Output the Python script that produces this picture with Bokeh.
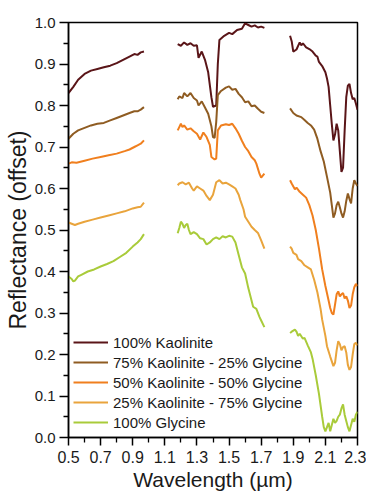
from bokeh.plotting import figure
from bokeh.models import FixedTicker, NumeralTickFormatter, Legend, LegendItem
from bokeh.embed import file_html
from bokeh.resources import INLINE

NaN = float("nan")

# ---- data (wavelength in µm, reflectance offset) ----
kao_wl = [0.50, 0.53, 0.56, 0.60, 0.64, 0.68, 0.72, 0.76, 0.80, 0.84, 0.88, 0.91, 0.93, 0.95, 0.97, NaN,
          1.18, 1.20, 1.22, 1.24, 1.26, 1.28, 1.30, 1.31, 1.33, 1.35, 1.37, 1.39, 1.40, 1.42, 1.43, 1.44,
          1.47, 1.50, 1.52, 1.55, 1.58, 1.60, 1.62, 1.64, 1.66, 1.68, 1.70, 1.72, NaN,
          1.88, 1.89, 1.90, 1.92, 1.94, 1.95, 1.96, 1.98, 2.00, 2.02, 2.04, 2.05, 2.06, 2.08, 2.10, 2.11,
          2.12, 2.13, 2.14, 2.15, 2.16, 2.17, 2.18, 2.19, 2.20, 2.21, 2.22, 2.23, 2.24, 2.25, 2.26, 2.27,
          2.28, 2.29, 2.30]
kao_r = [0.830, 0.845, 0.862, 0.876, 0.884, 0.888, 0.892, 0.896, 0.902, 0.910, 0.918, 0.924, 0.922, 0.928, 0.930, NaN,
         0.948, 0.944, 0.952, 0.946, 0.950, 0.944, 0.945, 0.915, 0.930, 0.910, 0.880, 0.820, 0.797, 0.800, 0.900, 0.958,
         0.968, 0.975, 0.972, 0.982, 0.985, 0.998, 0.994, 0.990, 0.993, 0.988, 0.990, 0.987, NaN,
         0.968, 0.955, 0.930, 0.935, 0.952, 0.945, 0.950, 0.940, 0.936, 0.930, 0.920, 0.918, 0.905, 0.895, 0.880, 0.865,
         0.845, 0.800, 0.755, 0.716, 0.730, 0.756, 0.740, 0.690, 0.640, 0.650, 0.740, 0.820, 0.848, 0.852, 0.830, 0.815,
         0.818, 0.805, 0.790]

k75_wl = [0.50, 0.53, 0.56, 0.60, 0.64, 0.68, 0.72, 0.76, 0.80, 0.84, 0.88, 0.91, 0.93, 0.95, 0.97, NaN,
          1.18, 1.19, 1.21, 1.22, 1.24, 1.26, 1.28, 1.30, 1.31, 1.33, 1.35, 1.37, 1.39, 1.40, 1.41, 1.42,
          1.43, 1.45, 1.48, 1.50, 1.52, 1.54, 1.56, 1.58, 1.60, 1.62, 1.64, 1.66, 1.68, 1.70, 1.72, NaN,
          1.88, 1.90, 1.92, 1.95, 1.97, 1.99, 2.01, 2.03, 2.05, 2.07, 2.09, 2.11, 2.13, 2.14, 2.15, 2.16,
          2.17, 2.18, 2.19, 2.20, 2.21, 2.22, 2.23, 2.24, 2.25, 2.26, 2.27, 2.28, 2.29, 2.30]
k75_r = [0.720, 0.732, 0.740, 0.746, 0.752, 0.756, 0.758, 0.764, 0.770, 0.776, 0.782, 0.786, 0.786, 0.790, 0.796, NaN,
         0.815, 0.822, 0.818, 0.830, 0.822, 0.830, 0.818, 0.812, 0.800, 0.810, 0.795, 0.780, 0.750, 0.724, 0.722, 0.760,
         0.825, 0.835, 0.843, 0.846, 0.838, 0.840, 0.828, 0.820, 0.808, 0.810, 0.798, 0.800, 0.792, 0.785, 0.782, NaN,
         0.793, 0.782, 0.776, 0.772, 0.765, 0.758, 0.752, 0.742, 0.720, 0.690, 0.665, 0.628, 0.590, 0.560, 0.530, 0.540,
         0.560, 0.568, 0.555, 0.540, 0.530, 0.545, 0.570, 0.588, 0.575, 0.564, 0.600, 0.620, 0.612, 0.606]

k50_wl = [0.50, 0.52, 0.55, 0.60, 0.65, 0.70, 0.75, 0.80, 0.85, 0.88, 0.91, 0.93, 0.95, 0.97, NaN,
          1.18, 1.19, 1.20, 1.21, 1.22, 1.24, 1.26, 1.28, 1.30, 1.32, 1.34, 1.36, 1.38, 1.39, 1.41, 1.42,
          1.43, 1.45, 1.48, 1.50, 1.52, 1.54, 1.56, 1.58, 1.60, 1.62, 1.64, 1.66, 1.67, 1.69, 1.70, 1.72, NaN,
          1.88, 1.89, 1.91, 1.92, 1.94, 1.96, 1.98, 2.00, 2.02, 2.04, 2.06, 2.08, 2.10, 2.12, 2.13, 2.14,
          2.15, 2.16, 2.17, 2.18, 2.19, 2.20, 2.21, 2.22, 2.23, 2.24, 2.25, 2.26, 2.27, 2.28, 2.29, 2.30]
k50_r = [0.660, 0.663, 0.662, 0.667, 0.672, 0.676, 0.680, 0.684, 0.690, 0.694, 0.700, 0.704, 0.708, 0.716, NaN,
         0.740, 0.748, 0.756, 0.748, 0.752, 0.742, 0.745, 0.738, 0.732, 0.718, 0.735, 0.724, 0.705, 0.676, 0.670, 0.672,
         0.740, 0.752, 0.755, 0.753, 0.756, 0.745, 0.732, 0.715, 0.700, 0.690, 0.676, 0.668, 0.660, 0.635, 0.626, 0.636, NaN,
         0.620, 0.612, 0.598, 0.602, 0.592, 0.585, 0.578, 0.560, 0.535, 0.500, 0.455, 0.405, 0.365, 0.330, 0.312, 0.300,
         0.296, 0.320, 0.345, 0.352, 0.340, 0.345, 0.348, 0.335, 0.340, 0.330, 0.312, 0.318, 0.345, 0.362, 0.370, 0.365]

k25_wl = [0.50, 0.52, 0.54, 0.56, 0.60, 0.65, 0.70, 0.75, 0.80, 0.85, 0.90, 0.93, 0.95, 0.97, NaN,
          1.18, 1.19, 1.21, 1.23, 1.25, 1.27, 1.28, 1.30, 1.32, 1.34, 1.36, 1.38, 1.40, 1.42, 1.44, 1.46,
          1.48, 1.50, 1.52, 1.54, 1.56, 1.57, 1.59, 1.60, 1.62, 1.64, 1.66, 1.68, 1.70, 1.72, NaN,
          1.88, 1.89, 1.90, 1.92, 1.93, 1.95, 1.97, 1.99, 2.01, 2.03, 2.05, 2.07, 2.08, 2.10, 2.11, 2.13,
          2.15, 2.16, 2.17, 2.18, 2.19, 2.20, 2.21, 2.22, 2.23, 2.24, 2.25, 2.26, 2.27, 2.28, 2.29, 2.30]
k25_r = [0.518, 0.515, 0.512, 0.515, 0.520, 0.525, 0.530, 0.535, 0.540, 0.545, 0.552, 0.555, 0.556, 0.566, NaN,
         0.608, 0.612, 0.615, 0.610, 0.614, 0.600, 0.595, 0.605, 0.600, 0.595, 0.582, 0.572, 0.585, 0.615, 0.620, 0.612,
         0.614, 0.610, 0.605, 0.600, 0.585, 0.572, 0.550, 0.532, 0.520, 0.508, 0.500, 0.493, 0.475, 0.455, NaN,
         0.460, 0.455, 0.445, 0.440, 0.430, 0.425, 0.415, 0.410, 0.405, 0.380, 0.350, 0.310, 0.284, 0.245, 0.220, 0.195,
         0.172, 0.180, 0.210, 0.232, 0.225, 0.210, 0.218, 0.220, 0.205, 0.175, 0.163, 0.170, 0.200, 0.225, 0.228, 0.222]

gly_wl = [0.50, 0.51, 0.52, 0.53, 0.54, 0.56, 0.58, 0.62, 0.66, 0.70, 0.74, 0.78, 0.82, 0.86, 0.90, 0.93, 0.95, 0.97, NaN,
          1.18, 1.19, 1.20, 1.21, 1.22, 1.23, 1.24, 1.25, 1.26, 1.28, 1.30, 1.32, 1.34, 1.36, 1.38, 1.40,
          1.42, 1.44, 1.46, 1.48, 1.50, 1.52, 1.54, 1.56, 1.58, 1.60, 1.62, 1.64, 1.65, 1.67, 1.69, 1.70, 1.72, NaN,
          1.88, 1.89, 1.91, 1.92, 1.93, 1.94, 1.96, 1.97, 1.99, 2.01, 2.02, 2.04, 2.06, 2.08, 2.09, 2.10,
          2.11, 2.12, 2.13, 2.14, 2.15, 2.16, 2.17, 2.18, 2.19, 2.20, 2.21, 2.22, 2.23, 2.24, 2.25, 2.26,
          2.27, 2.28, 2.29, 2.30]
gly_r = [0.388, 0.385, 0.382, 0.376, 0.378, 0.388, 0.392, 0.400, 0.405, 0.412, 0.418, 0.425, 0.435, 0.445, 0.460, 0.470, 0.478, 0.490, NaN,
         0.492, 0.505, 0.520, 0.515, 0.505, 0.512, 0.515, 0.500, 0.490, 0.495, 0.490, 0.480, 0.478, 0.465, 0.470, 0.478,
         0.482, 0.478, 0.485, 0.482, 0.486, 0.484, 0.470, 0.440, 0.410, 0.395, 0.360, 0.330, 0.315, 0.310, 0.290, 0.282, 0.266, NaN,
         0.252, 0.255, 0.260, 0.255, 0.245, 0.250, 0.238, 0.240, 0.222, 0.205, 0.190, 0.150, 0.105, 0.050, 0.025, 0.015,
         0.025, 0.035, 0.015, 0.030, 0.045, 0.035, 0.040, 0.050, 0.055, 0.070, 0.080, 0.055, 0.040, 0.025, 0.015, 0.030,
         0.045, 0.038, 0.055, 0.062]

labels = ["100% Kaolinite", "75% Kaolinite - 25% Glycine", "50% Kaolinite - 50% Glycine",
          "25% Kaolinite - 75% Glycine", "100% Glycine"]
colors = ["#5a1518", "#8f5c22", "#f07f1e", "#e9a43c", "#a9cb3a"]
x_ticks = [0.5, 0.7, 0.9, 1.1, 1.3, 1.5, 1.7, 1.9, 2.1, 2.3]
y_ticks = [0.0, 0.1, 0.2, 0.3, 0.4, 0.5, 0.6, 0.7, 0.8, 0.9, 1.0]

FONT = "Liberation Sans"

p = figure(width=366, height=496, x_range=(0.5, 2.3), y_range=(0.0, 1.0),
           output_backend="svg", toolbar_location=None,
           min_border_left=68, min_border_right=9, min_border_top=22, min_border_bottom=59)
p.xgrid.visible = False
p.ygrid.visible = False
p.outline_line_color = "black"
p.outline_line_width = 1.5

series = [(kao_wl, kao_r), (k75_wl, k75_r), (k50_wl, k50_r), (k25_wl, k25_r), (gly_wl, gly_r)]
items = []
for (wl, r), lab, col in zip(series, labels, colors):
    rend = p.line(wl, r, line_color=col, line_width=2)
    items.append(LegendItem(label=lab, renderers=[rend]))

# axes
p.xaxis.ticker = FixedTicker(ticks=x_ticks,
                             minor_ticks=[round(v + 0.1, 2) for v in x_ticks[:-1]])
p.yaxis.ticker = FixedTicker(ticks=y_ticks,
                             minor_ticks=[round(v + 0.05, 2) for v in y_ticks[:-1]])
for ax in (p.xaxis[0], p.yaxis[0]):
    ax.formatter = NumeralTickFormatter(format="0.0")
    ax.axis_line_color = "black"
    ax.axis_line_width = 1.5
    ax.major_tick_line_color = "black"
    ax.minor_tick_line_color = "black"
    ax.major_tick_line_width = 1.5
    ax.minor_tick_line_width = 1.3
    ax.major_tick_in = 0
    ax.minor_tick_out = 5
    ax.minor_tick_in = 0
    ax.major_label_text_font = FONT
    ax.major_label_text_color = "#1a1a1a"
    ax.axis_label_text_font = FONT
    ax.axis_label_text_font_style = "normal"
    ax.axis_label_text_color = "#1a1a1a"

p.xaxis.major_tick_out = 8
p.yaxis.major_tick_out = 9
p.xaxis.major_label_text_font_size = "16px"
p.yaxis.major_label_text_font_size = "15px"
p.xaxis.axis_label = "Wavelength (µm)"
p.yaxis.axis_label = "Reflectance (offset)"
p.xaxis.axis_label_text_font_size = "21px"
p.yaxis.axis_label_text_font_size = "23px"
p.xaxis.major_label_standoff = 5
p.yaxis.major_label_standoff = 4
p.xaxis.axis_label_standoff = 2
p.yaxis.axis_label_standoff = 1

legend = Legend(items=items, location="bottom_left", margin=0, padding=5, spacing=0,
                glyph_width=35, glyph_height=20, label_height=20, label_standoff=5,
                label_text_font=FONT, label_text_font_size="15px", label_text_color="#1a1a1a",
                background_fill_alpha=0, border_line_alpha=0)
p.add_layout(legend)

open("out.html", "w").write(file_html(p, INLINE))
